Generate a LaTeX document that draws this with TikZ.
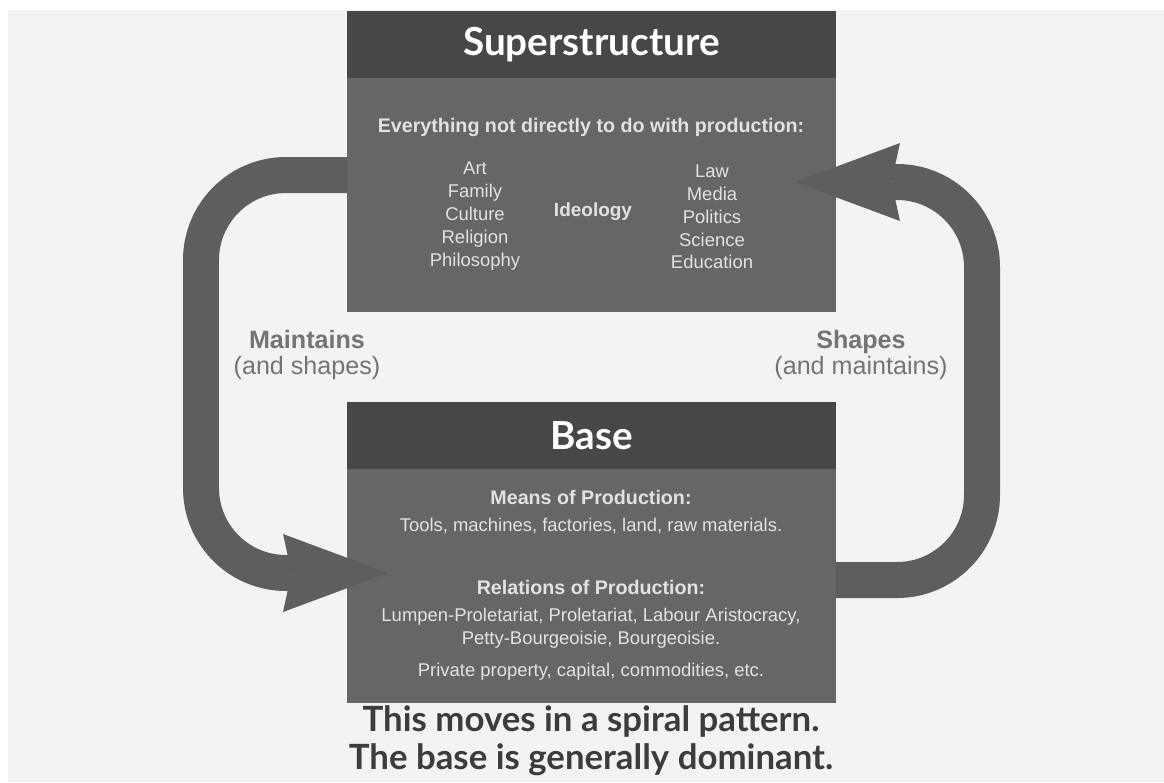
\documentclass[tikz,border=0pt]{standalone}
\usepackage{fontspec}
\setmainfont{Liberation Sans}
\newfontfamily\headfont{Lato}
\usetikzlibrary{arrows.meta, positioning, calc}
\definecolor{pagegrey}{HTML}{F3F3F3}
\definecolor{headgrey}{HTML}{474747}
\definecolor{bodygrey}{HTML}{666666}
\definecolor{arrowgrey}{HTML}{5E5E5E}
\definecolor{lightgrey}{HTML}{E2E2E2}
\definecolor{labelgrey}{HTML}{747474}
\definecolor{inkgrey}{HTML}{3C3C3C}
\tikzstyle{bigarrow} = [-{Stealth[length=2.1cm, width=1.56cm, inset=0.17cm, line width=0pt]}, line width=0.72cm, color=arrowgrey, rounded corners=1.7cm]

\begin{document}
\begin{tikzpicture}[x=0.02cm, y=-0.02cm, every node/.style={align=center},
    headbox/.style={rectangle, fill=headgrey, minimum width=9.78cm, minimum height=1.34cm,
      inner sep=0pt, outer sep=0pt, text=white, font=\headfont\bfseries\fontsize{22}{26}\selectfont},
    bodybox/.style={rectangle, fill=bodygrey, minimum width=9.78cm, minimum height=4.68cm,
      inner sep=0pt, outer sep=0pt},
    boxhead/.style={text=lightgrey, font=\bfseries\fontsize{11.2}{13}\selectfont},
    boxtext/.style={text=lightgrey, font=\fontsize{10.5}{13}\selectfont},
    sidelabel/.style={text=labelgrey, font=\fontsize{14.3}{15}\selectfont}
  ]
    \useasboundingbox (0,0) rectangle (1164,782);
    \fill[pagegrey] (8,10) rectangle (1164,782);

    % the two blocks
    \node[headbox, anchor=north west] (suphead) at (347,11) {Superstructure};
    \node[bodybox, below=0pt of suphead] (supbody) {};
    \node[headbox, anchor=north west] (basehead) at (347,402) {Base};
    \node[bodybox, below=0pt of basehead] (basebody) {};

    % superstructure contents
    \node[boxhead] (everything) at (591,127) {Everything not directly to do with production:};
    \node[boxtext] (leftcol) at (475,216) {Art\\Family\\Culture\\Religion\\Philosophy};
    \node[boxtext, font=\bfseries\fontsize{10.8}{12}\selectfont] (ideology) at (593,212) {Ideology};
    \node[boxtext] (rightcol) at (712,217) {Law\\Media\\Politics\\Science\\Education};

    % base contents
    \node[boxhead] (means) at (591,497) {Means of Production:};
    \node[boxtext] (tools) at (591,526) {Tools, machines, factories, land, raw materials.};
    \node[boxhead] (relations) at (591,587) {Relations of Production:};
    \node[boxtext] (classes) at (591,628) {Lumpen-Proletariat, Proletariat, Labour Aristocracy,\\Petty-Bourgeoisie, Bourgeoisie.};
    \node[boxtext] (property) at (591,672) {Private property, capital, commodities, etc.};

    % side labels
    \node[sidelabel] (maintains) at (307,355) {\textbf{Maintains}\\(and shapes)};
    \node[sidelabel] (shapes) at (861,355) {\textbf{Shapes}\\(and maintains)};

    % the loop
    \coordinate (ly) at (0,175);
    \coordinate (ry) at (0,580);
    \coordinate (ltip) at (388,573);
    \coordinate (rtip) at (795,182);
    \draw[bigarrow] (supbody.west |- ly) -- (201,175) -- (201,573) -- (ltip);
    \draw[bigarrow] (basebody.east |- ry) -- (982,580) -- (982,182) -- (rtip);

    \node[text=inkgrey, font=\headfont\bfseries\fontsize{19.8}{21.8}\selectfont] (spiral) at (591,741)
      {This moves in a spiral pattern.\\The base is generally dominant.};
  \end{tikzpicture}
\end{document}
